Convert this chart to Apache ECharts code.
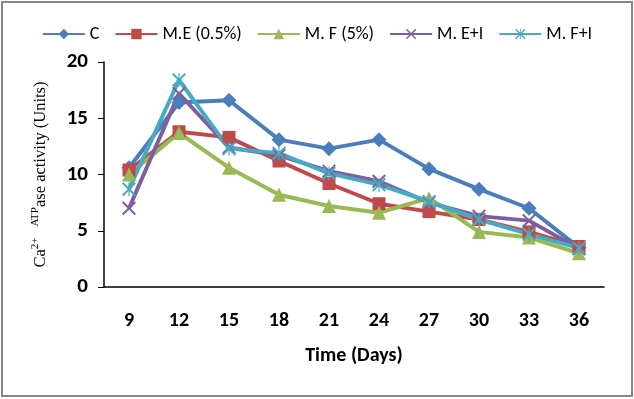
<!DOCTYPE html>
<html>
<head>
<meta charset="utf-8">
<script src="https://cdn.jsdelivr.net/npm/echarts@6/dist/echarts.min.js"></script>
<style>
  html, body { margin: 0; padding: 0; background: #fff; }
  #chart { width: 634px; height: 399px; }
</style>
</head>
<body>
<div id="chart"></div>
<script>
  // days on the x axis
  var days = ['9', '12', '15', '18', '21', '24', '27', '30', '33', '36'];
  // Ca2+ ATPase activity per treatment
  var cData = [10.6, 16.4, 16.6, 13.1, 12.3, 13.1, 10.5, 8.7, 7.0, 3.5];
  var meData = [10.4, 13.8, 13.3, 11.2, 9.2, 7.4, 6.7, 6.0, 4.9, 3.6];
  var mfData = [10.0, 13.7, 10.6, 8.2, 7.2, 6.6, 7.9, 4.9, 4.4, 3.0];
  var meiData = [7.0, 17.2, 12.4, 11.7, 10.3, 9.4, 7.5, 6.3, 5.9, 3.4];
  var mfiData = [8.7, 18.4, 12.3, 11.9, 10.1, 9.1, 7.6, 6.0, 4.7, 3.45];
  var yTicks = [0, 5, 10, 15, 20];

  var font = 'Carlito, Lato, "Open Sans", sans-serif';
  var serif = '"Liberation Serif", "DejaVu Serif", serif';
  var xMark = 'path://M0,1 L1,0 L10,9 L9,10 Z M9,0 L10,1 L1,10 L0,9 Z';
  var starMark = 'path://M0,1 L1,0 L10,9 L9,10 Z M9,0 L10,1 L1,10 L0,9 Z M4.6,0 L5.4,0 L5.4,10 L4.6,10 Z';

  function makeSeries(name, data, color, symbol, size) {
    return {
      name: name,
      type: 'line',
      data: data,
      symbol: symbol,
      symbolSize: size,
      showSymbol: true,
      lineStyle: { color: color, width: 4 },
      itemStyle: { color: color },
      emphasis: { disabled: true }
    };
  }

  var chart = echarts.init(document.getElementById('chart'));
  chart.setOption({
    animation: false,
    textStyle: { fontFamily: font },
    graphic: [{
      type: 'rect',
      shape: { x: 2, y: 2, width: 630, height: 394 },
      style: { fill: 'none', stroke: '#868686', lineWidth: 2 }
    }],
    legend: {
      top: 20,
      left: 'center',
      itemWidth: 42,
      itemHeight: 13,
      itemGap: 15,
      textStyle: { fontFamily: font, fontSize: 18, color: '#000' },
      data: ['C', 'M.E (0.5%)', 'M. F (5%)', 'M. E+I', 'M. F+I']
    },
    grid: { left: 104, right: 30, top: 62, bottom: 112 },
    xAxis: {
      type: 'category',
      data: days,
      boundaryGap: true,
      name: 'Time (Days)',
      nameLocation: 'middle',
      nameGap: 59,
      nameTextStyle: { fontFamily: font, fontSize: 20, fontWeight: 'bold', color: '#000' },
      axisLine: { lineStyle: { color: '#000', width: 1.5 } },
      axisTick: { show: false },
      axisLabel: { margin: 24, fontFamily: font, fontSize: 20, fontWeight: 'bold', color: '#000' }
    },
    yAxis: {
      type: 'value',
      min: yTicks[0],
      max: yTicks[yTicks.length - 1],
      interval: 5,
      name: '{a|Ca}{s|2+}    {s|ATP}{a|ase activity (Units)}',
      nameLocation: 'middle',
      nameGap: 53,
      nameTextStyle: {
        rich: {
          a: { fontFamily: serif, fontSize: 16.5, color: '#000', lineHeight: 21 },
          s: { fontFamily: serif, fontSize: 11, color: '#000', verticalAlign: 'top', lineHeight: 21 }
        }
      },
      axisLine: { show: true, lineStyle: { color: '#000', width: 1.5 } },
      axisTick: { show: true, length: 6, lineStyle: { color: '#000' } },
      splitLine: { show: false },
      axisLabel: { margin: 16, fontFamily: font, fontSize: 21, fontWeight: 'bold', color: '#000' }
    },
    series: [
      makeSeries('C', cData, '#4A7EBB', 'diamond', 15),
      makeSeries('M.E (0.5%)', meData, '#BE4B48', 'rect', 13),
      makeSeries('M. F (5%)', mfData, '#98B954', 'triangle', 14),
      makeSeries('M. E+I', meiData, '#7D5FA0', xMark, 14),
      makeSeries('M. F+I', mfiData, '#46AAC5', starMark, 14)
    ]
  });
</script>
</body>
</html>
